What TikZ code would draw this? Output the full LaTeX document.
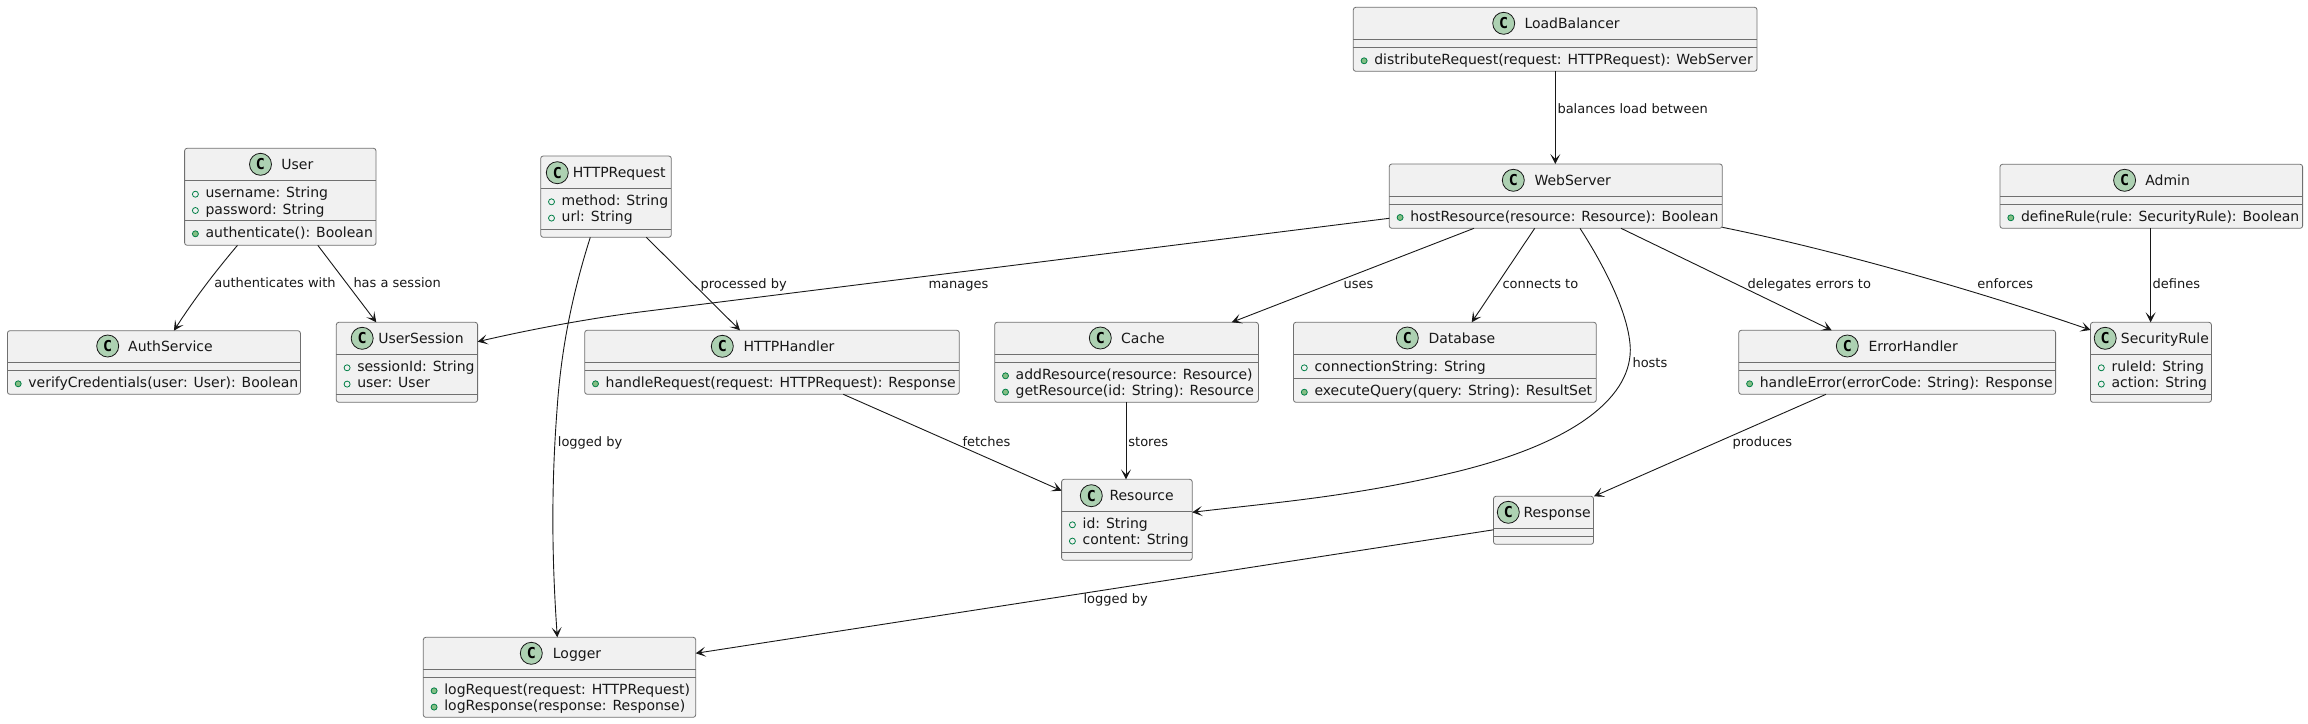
\documentclass[tikz,border=0pt]{standalone}
\usepackage{fontspec}
\setmainfont{DejaVu Sans}
\newfontfamily\badgefont{DejaVu Sans Mono}
\usetikzlibrary{arrows.meta}
\definecolor{umlink}{HTML}{181818}
\definecolor{umlborder}{HTML}{707070}
\definecolor{umlfill}{HTML}{F1F1F1}
\definecolor{umlgreen}{HTML}{ADD1B2}
\definecolor{mstroke}{HTML}{038048}
\definecolor{mfill}{HTML}{84BE84}
\tikzset{
  umlbox/.style={draw=umlborder,line width=0.8pt,fill=umlfill,rounded corners=2.5pt,inner sep=0pt,outer sep=0pt},
  sepline/.style={draw=umlborder,line width=0.8pt},
  badge/.style={circle,draw=umlink,line width=0.8pt,fill=umlgreen,minimum size=22pt,inner sep=0pt,font=\badgefont\bfseries\fontsize{15}{15}\selectfont,text=black},
  uname/.style={inner sep=0pt,anchor=base west,font=\fontsize{14}{16}\selectfont,text=umlink},
  umember/.style={inner sep=0pt,anchor=base west,font=\fontsize{14}{16}\selectfont,text=umlink},
  elabel/.style={inner sep=0pt,anchor=base west,font=\fontsize{13}{15}\selectfont,text=umlink},
  conn/.style={draw=umlink,line width=0.9pt,-{Stealth[length=10pt,width=10pt,inset=5pt]}},
  mopen/.style={draw=mstroke,line width=0.8pt,fill=none},
  mfull/.style={draw=mstroke,line width=0.8pt,fill=mfill}
}
\newcommand{\classbox}[5]{\node[umlbox,minimum width={(#4-#2)*1pt},minimum height={(#5-#3)*1pt}] (#1) at ({(#2+#4)/2},{(#3+#5)/2}) {};}
\newcommand{\compsep}[2]{\draw[sepline] (#1.west |- 0,#2) -- (#1.east |- 0,#2);}
\newcommand{\classhead}[5]{\node[badge] (#1-badge) at (#2,#3) {C};\node[uname] (#1-name) at (#4,#3+5) {#5};}
\newcommand{\fld}[4]{\path[mopen] ([xshift=10.8pt]#1.west |- 0,#3-3.5) circle[radius=3pt];\node[umember] (#1-#2) at ([xshift=20.8pt]#1.west |- 0,#3) {#4};}
\newcommand{\mtd}[4]{\path[mfull] ([xshift=10.8pt]#1.west |- 0,#3-3.5) circle[radius=3pt];\node[umember] (#1-#2) at ([xshift=20.8pt]#1.west |- 0,#3) {#4};}
\newcommand{\elab}[4]{\node[elabel] (#1) at (#2,#3+4.5) {#4};}
\begin{document}
\begin{tikzpicture}[x=1pt,y=-1pt]
\useasboundingbox (0,0) rectangle (2308,723);
\fill[white] (0,0) rectangle (2308,723);

\classbox{lb}{1353.3}{7.3}{1757}{71.3}
\compsep{lb}{39.3}\compsep{lb}{47.3}
\classhead{lb}{1503.7}{23.3}{1524.3}{LoadBalancer}
\mtd{lb}{m1}{64.3}{distributeRequest(request: HTTPRequest): WebServer}

\classbox{ws}{1389.3}{164}{1722.3}{228.3}
\compsep{ws}{196.3}\compsep{ws}{204}
\classhead{ws}{1513.3}{180.3}{1534.3}{WebServer}
\mtd{ws}{m1}{221}{hostResource(resource: Resource): Boolean}

\classbox{user}{184.6}{148.3}{376}{245.3}
\compsep{user}{180.7}\compsep{user}{220.3}
\classhead{user}{260.5}{164.3}{281.2}{User}
\fld{user}{f1}{197.7}{username: String}
\fld{user}{f2}{214}{password: String}
\mtd{user}{m1}{237.3}{authenticate(): Boolean}

\classbox{auth}{7.4}{330.7}{300.4}{394.3}
\compsep{auth}{362.3}\compsep{auth}{370.3}
\classhead{auth}{107.7}{346}{128}{AuthService}
\mtd{auth}{m1}{387.3}{verifyCredentials(user: User): Boolean}

\classbox{sess}{336.3}{322.3}{477.6}{402.3}
\compsep{sess}{354.3}\compsep{sess}{394.3}
\classhead{sess}{362.2}{338.3}{378.1}{UserSession}
\fld{sess}{f1}{371.3}{sessionId: String}
\fld{sess}{f2}{387.6}{user: User}

\classbox{req}{540.7}{156}{671.3}{237.3}
\compsep{req}{188.3}\compsep{req}{229.3}
\classhead{req}{557.3}{172.7}{572.7}{HTTPRequest}
\fld{req}{f1}{205.3}{method: String}
\fld{req}{f2}{221.6}{url: String}

\classbox{hand}{584.7}{330.3}{959.3}{394.3}
\compsep{hand}{362.3}\compsep{hand}{370.3}
\classhead{hand}{722.3}{346.3}{743.3}{HTTPHandler}
\mtd{hand}{m1}{387.3}{handleRequest(request: HTTPRequest): Response}

\classbox{cache}{994.7}{322.3}{1258.4}{402.3}
\compsep{cache}{354.3}\compsep{cache}{362.3}
\classhead{cache}{1100.3}{338}{1121}{Cache}
\mtd{cache}{m1}{379.3}{addResource(resource: Resource)}
\mtd{cache}{m2}{395.6}{getResource(id: String): Resource}

\classbox{db}{1293.5}{322.3}{1596.3}{402.3}
\compsep{db}{354.3}\compsep{db}{378.7}
\classhead{db}{1407.3}{338}{1428.3}{Database}
\fld{db}{f1}{371.3}{connectionString: String}
\mtd{db}{m1}{395.7}{executeQuery(query: String): ResultSet}

\classbox{res}{1061.6}{479.3}{1192.2}{560.3}
\compsep{res}{511.3}\compsep{res}{552.3}
\classhead{res}{1091.3}{495.7}{1109.3}{Resource}
\fld{res}{f1}{528.3}{id: String}
\fld{res}{f2}{544.6}{content: String}

\classbox{resp}{1493.5}{496.3}{1593.5}{544.3}
\compsep{resp}{528.3}\compsep{resp}{536.3}
\classhead{resp}{1508.3}{512.3}{1523.3}{Response}

\classbox{err}{1738.8}{330.3}{2055.6}{394.3}
\compsep{err}{362.3}\compsep{err}{370.3}
\classhead{err}{1847.3}{346}{1868.3}{ErrorHandler}
\mtd{err}{m1}{387.3}{handleError(errorCode: String): Response}

\classbox{admin}{2000}{164.3}{2302.6}{228.3}
\compsep{admin}{196.3}\compsep{admin}{204.3}
\classhead{admin}{2124.6}{180.3}{2145.1}{Admin}
\mtd{admin}{m1}{221.3}{defineRule(rule: SecurityRule): Boolean}

\classbox{rule}{2090.5}{322.3}{2211.4}{402.3}
\compsep{rule}{354.3}\compsep{rule}{394.3}
\classhead{rule}{2105.2}{338.3}{2120.7}{SecurityRule}
\fld{rule}{f1}{371.3}{ruleId: String}
\fld{rule}{f2}{387.6}{action: String}

\classbox{log}{423.3}{637.3}{695.7}{717.3}
\compsep{log}{669.3}\compsep{log}{677.3}
\classhead{log}{531.3}{653.3}{552.7}{Logger}
\mtd{log}{m1}{694.3}{logRequest(request: HTTPRequest)}
\mtd{log}{m2}{710.6}{logResponse(response: Response)}

% connectors
\draw[conn] (237.5,0 |- user.south) .. controls (215,272) and (195,298) .. (173.9,0 |- auth.north);
\draw[conn] (317.8,0 |- user.south) -- (376.3,0 |- sess.north);
\draw[conn] (ws.west |- 0,218.3) -- (640,312) .. controls (590,318.3) and (530,329.5) .. (sess.east |- 0,341.7);
\draw[conn] (590.3,0 |- req.south) .. controls (572,295) and (561,350) .. (557,410) .. controls (551,490) and (552,560) .. (557.3,0 |- log.north);
\draw[conn] (646.3,0 |- req.south) -- (740,0 |- hand.north);
\draw[conn] (843.3,0 |- hand.south) -- (res.west |- 0,490.7);
\draw[conn] (1126,0 |- cache.south) -- (1126,0 |- res.north);
\draw[conn] (1474,0 |- ws.south) -- (1231.7,0 |- cache.north);
\draw[conn] (1534.7,0 |- ws.south) -- (1471.7,0 |- db.north);
\draw[conn] (1580,0 |- ws.south) .. controls (1610,275) and (1630,320) .. (1630.3,350) .. controls (1630,400) and (1570,445) .. (1450,473.3) .. controls (1350,497) and (1270,503) .. (res.east |- 0,512.3);
\draw[conn] (1621,0 |- ws.south) -- (1831.7,0 |- err.north);
\draw[conn] (ws.east |- 0,227.3) .. controls (1820,247) and (1960,285) .. (rule.west |- 0,330);
\draw[conn] (2150.6,0 |- admin.south) -- (2150.6,0 |- rule.north);
\draw[conn] (1555.3,0 |- lb.south) -- (1555.3,0 |- ws.north);
\draw[conn] (1826,0 |- err.south) -- (1594,0 |- resp.north);
\draw[conn] (resp.west |- 0,529.8) -- (log.east |- 0,653.3);

% labels
\elab{l1}{214.2}{283.3}{authenticates with}
\elab{l2}{353.3}{283.3}{has a session}
\elab{l3}{1557.3}{109.3}{balances load between}
\elab{l4}{557.7}{441.7}{logged by}
\elab{l5}{962.3}{441.7}{fetches}
\elab{l6}{1128.2}{441.7}{stores}
\elab{l7}{700.3}{283.7}{processed by}
\elab{l8}{928.3}{283.7}{manages}
\elab{l9}{1343.3}{283.7}{uses}
\elab{l10}{1502.3}{283.7}{connects to}
\elab{l11}{1747.3}{283.7}{delegates errors to}
\elab{l12}{1977.2}{283.7}{enforces}
\elab{l13}{2152.5}{283.7}{defines}
\elab{l14}{1632.3}{362.7}{hosts}
\elab{l15}{1732.3}{441.7}{produces}
\elab{l16}{1083.3}{598.7}{logged by}
\end{tikzpicture}
\end{document}
